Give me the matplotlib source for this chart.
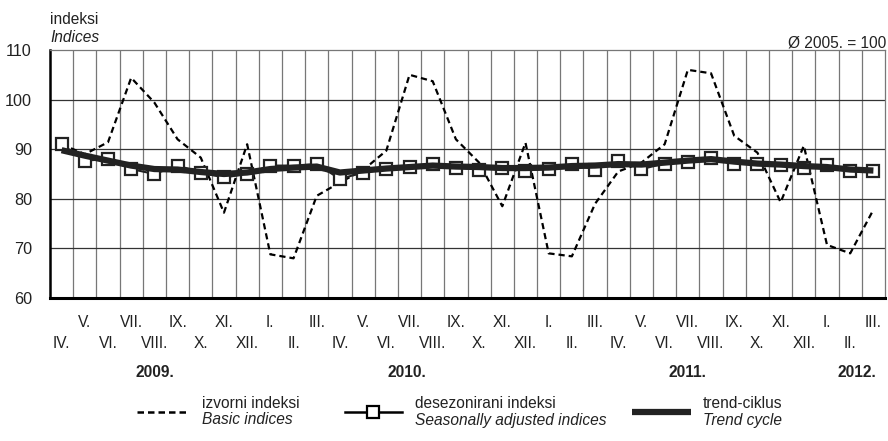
import matplotlib
matplotlib.use('Agg')
import matplotlib.pyplot as plt
from matplotlib import font_manager
from matplotlib.lines import Line2D

# Podaci očitani sa slike (IV. 2009. - III. 2012.)
mjeseci = ['IV.', 'V.', 'VI.', 'VII.', 'VIII.', 'IX.', 'X.', 'XI.', 'XII.',
           'I.', 'II.', 'III.', 'IV.', 'V.', 'VI.', 'VII.', 'VIII.', 'IX.', 'X.', 'XI.', 'XII.',
           'I.', 'II.', 'III.', 'IV.', 'V.', 'VI.', 'VII.', 'VIII.', 'IX.', 'X.', 'XI.', 'XII.',
           'I.', 'II.', 'III.']
izvorni = [91.0, 89.0, 91.4, 104.4, 99.4, 92.0, 88.3, 77.2, 91.0,
           68.8, 68.0, 80.6, 83.3, 85.8, 89.7, 105.0, 103.7, 92.0, 87.3, 78.5, 91.3,
           69.0, 68.4, 79.0, 85.5, 87.3, 91.0, 106.0, 105.3, 92.7, 89.3, 79.3, 90.7,
           70.7, 69.0, 77.8]
desezonirani = [91.0, 87.7, 88.0, 86.0, 85.0, 86.7, 85.3, 84.3, 85.0,
                86.7, 86.7, 87.0, 84.0, 85.3, 86.0, 86.5, 87.0, 86.3, 85.9, 86.3, 85.7,
                86.1, 87.0, 85.9, 87.7, 86.0, 87.1, 87.5, 88.3, 87.1, 87.1, 86.9, 86.3,
                86.8, 85.7, 85.7]
trend = [89.8, 88.7, 87.7, 86.7, 86.0, 85.9, 85.4, 85.0, 85.3,
         86.0, 86.3, 86.5, 85.3, 85.7, 86.1, 86.4, 86.7, 86.5, 86.4, 86.2, 86.2,
         86.3, 86.6, 86.7, 87.0, 86.9, 87.3, 87.7, 88.0, 87.5, 87.1, 86.9, 86.6,
         86.4, 85.9, 85.7]
godine = ['2009.', '2010.', '2011.', '2012.']
pozicije_godina = [4.0, 14.9, 27.0, 34.3]

# Font: uski Arial-oblik ako postoji
dostupni = {f.name for f in font_manager.fontManager.ttflist}
font = 'Liberation Sans Narrow' if 'Liberation Sans Narrow' in dostupni else 'Liberation Sans'
plt.rcParams['font.family'] = [font, 'DejaVu Sans']
fs = 11.2

W, H = 888, 441
fig = plt.figure(figsize=(W / 100, H / 100), dpi=100)
ax = fig.add_axes([50 / W, 1 - 298 / H, 835 / W, 248 / H])

x = list(range(len(mjeseci)))
ax.plot(x, izvorni, color='black', lw=1.6, dashes=(2.8, 1.8), zorder=3)
ax.plot(x, desezonirani, color='#222222', lw=1.5, marker='s', ms=8,
        mfc='white', mec='#222222', mew=1.6, zorder=4)
ax.plot(x, trend, color='#222222', lw=4.5, solid_capstyle='butt', zorder=5)

ax.set_xlim(-0.5, len(mjeseci) - 0.5)
ax.set_ylim(60, 110)
ax.set_yticks(range(60, 111, 10))
ax.tick_params(axis='y', length=0, pad=13, labelsize=fs + 0.5, colors='#222222')

# grid: vertikalne sive crte između mjeseci, horizontalne tamnije
for i in range(1, len(mjeseci)):
    ax.axvline(i - 0.5, color='#777777', lw=0.9, zorder=1)
for v in range(70, 110, 10):
    ax.axhline(v, color='#333333', lw=0.9, zorder=1)

ax.spines['left'].set_linewidth(1.8)
ax.spines['bottom'].set_linewidth(2.2)
ax.spines['top'].set_color('#777777')
ax.spines['top'].set_linewidth(0.9)
ax.spines['right'].set_color('#777777')
ax.spines['right'].set_linewidth(0.9)

# oznake mjeseci u dva reda
ax.set_xticks(x[0::2])
ax.set_xticklabels(mjeseci[0::2])
ax.set_xticks(x[1::2], minor=True)
ax.set_xticklabels(mjeseci[1::2], minor=True)
ax.tick_params(axis='x', which='major', length=0, pad=27, labelsize=fs, colors='#222222')
ax.tick_params(axis='x', which='minor', length=0, pad=12, labelsize=fs, colors='#222222')

tr = ax.get_xaxis_transform()
for g, p in zip(godine, pozicije_godina):
    ax.text(p, -0.30, g, transform=tr, ha='center', va='center',
            fontsize=fs, fontweight='bold', color='#222222')

def fx(px):
    return px / W

def fy(py):
    return 1 - py / H

fig.text(fx(50), fy(20), 'indeksi', fontsize=fs, va='center', ha='left', color='#222222')
fig.text(fx(50), fy(38), 'Indices', fontsize=fs, style='italic', va='center', ha='left', color='#222222')
fig.text(fx(886), fy(43), 'Ø 2005. = 100', fontsize=fs, va='center', ha='right', color='#222222')

# legenda
fig.add_artist(Line2D([fx(137), fx(188)], [fy(412), fy(412)], transform=fig.transFigure,
                      color='black', lw=1.8, dashes=(2.6, 1.6)))
fig.add_artist(Line2D([fx(345), fx(402)], [fy(412), fy(412)], transform=fig.transFigure,
                      color='black', lw=1.8))
fig.add_artist(Line2D([fx(373)], [fy(412)], transform=fig.transFigure, marker='s', ms=8,
                      mfc='white', mec='black', mew=1.6, lw=0))
fig.add_artist(Line2D([fx(632), fx(691)], [fy(412), fy(412)], transform=fig.transFigure,
                      color='#222222', lw=4.5, solid_capstyle='butt'))

legenda = [(202, 'izvorni indeksi', 'Basic indices'),
           (415, 'desezonirani indeksi', 'Seasonally adjusted indices'),
           (703, 'trend-ciklus', 'Trend cycle')]
for lx, hr, en in legenda:
    fig.text(fx(lx), fy(403), hr, fontsize=fs, va='center', ha='left', color='#222222')
    fig.text(fx(lx), fy(420), en, fontsize=fs, style='italic', va='center', ha='left', color='#222222')

fig.savefig('out.png', dpi=100)
